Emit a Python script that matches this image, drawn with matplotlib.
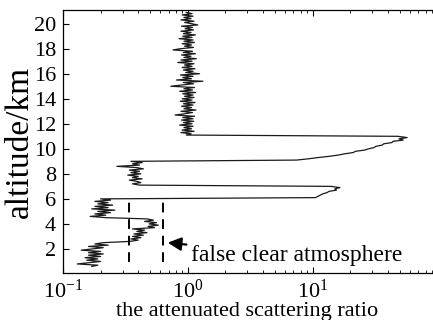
import numpy as np
import matplotlib
matplotlib.use("Agg")
import matplotlib.pyplot as plt

# profile values, listed from the top (20.9 km) down in 0.1 km steps
upper_clear = [0.97, 1.08, 0.90, 1.10, 0.93, 1.06, 0.88, 1.12, 0.94, 1.07,
               1.20, 0.89, 1.09, 0.95, 1.11, 0.88, 1.06, 0.92, 1.15, 0.91,
               1.08, 0.85, 1.10, 0.93, 1.13, 0.90, 1.07, 0.94, 1.11, 0.87,
               0.76, 1.09, 0.92, 1.15, 0.89, 1.06, 0.93, 1.17, 0.88, 1.08,
               0.83, 1.12, 0.94, 1.08, 0.90, 1.14, 0.92, 1.10, 0.96, 1.24,
               0.87, 1.10, 0.91, 1.07, 0.81, 1.32, 0.92, 1.11, 0.89, 0.73,
               1.13, 0.93, 1.09, 0.86, 1.15, 0.91, 1.10, 0.94, 1.12, 0.90,
               1.08, 0.87, 1.14, 0.92, 1.10, 0.89, 1.07, 0.93, 1.16, 0.88,
               1.09, 0.94, 0.79, 1.13, 0.91, 1.10, 0.89, 1.11, 0.92, 1.08,
               0.86, 1.10, 0.93, 1.07, 0.90, 1.12, 0.88, 1.06, 0.97]
cloud_high = [48, 57, 49, 53, 44, 43, 37, 36, 32, 31,
              28, 26, 22, 21, 18, 16, 13.5, 11, 9.2, 7.4]
mid_gap = [0.35, 0.43, 0.36, 0.41, 0.27, 0.39, 0.44, 0.34, 0.41, 0.35,
           0.42, 0.33, 0.40, 0.36, 0.43, 0.34, 0.39, 0.42, 0.36, 0.41]
cloud_low = [14, 16.5, 15, 15.5, 13.5, 13, 12, 11.5, 11, 10.5]
lower_a = [0.20, 0.24, 0.18, 0.23, 0.19, 0.25, 0.18, 0.23, 0.17, 0.26,
           0.19, 0.24, 0.18, 0.22, 0.165, 0.22]
false_clear = [0.47, 0.53, 0.45, 0.56, 0.49, 0.58, 0.48, 0.54]
lower_b = [0.36, 0.45, 0.39, 0.47, 0.37, 0.44, 0.36, 0.42, 0.35, 0.40, 0.34]
boundary = [0.21, 0.18, 0.23, 0.16, 0.21, 0.17, 0.14, 0.20, 0.16, 0.21,
            0.16, 0.20, 0.15, 0.19, 0.155, 0.20, 0.16, 0.13, 0.19, 0.17]

ratio = np.array(upper_clear + cloud_high + mid_gap + cloud_low
                 + lower_a + false_clear + lower_b + boundary)
altitude = np.round(20.9 - 0.1 * np.arange(len(ratio)), 1)

dash_x = [0.34, 0.63]
dash_alt = [0.98, 5.78]

plt.rcParams['font.family'] = ['Liberation Serif', 'DejaVu Serif']
plt.rcParams['mathtext.fontset'] = 'custom'
plt.rcParams['mathtext.rm'] = 'Liberation Serif'
plt.rcParams['mathtext.it'] = 'Liberation Serif:italic'
plt.rcParams['font.size'] = 16

fig = plt.figure(figsize=(4.33, 3.2), dpi=100)
ax = fig.add_axes([0.1455, 0.147, 0.852, 0.822])

ax.plot(ratio, altitude, color='#1a1a1a', lw=0.9)
for xv in dash_x:
    ax.plot([xv, xv], dash_alt, color='black', lw=1.4, dashes=(5, 3.5))

ax.annotate('false clear atmosphere', xy=(0.69, 2.5), xytext=(1.05, 1.45),
            ha='left', va='center', fontsize=17,
            arrowprops=dict(arrowstyle='-|>,head_length=0.8,head_width=0.4',
                            mutation_scale=10, color='black', lw=1.6,
                            shrinkA=1, shrinkB=0))

ax.set_xscale('log')
ax.set_xlim(0.1, 90)
ax.set_ylim(0.08, 21.1)
ax.set_yticks(np.arange(2, 21, 2))
ax.set_xlabel('the attenuated scattering ratio', labelpad=-1)
ax.set_ylabel('altitude/km', fontsize=24, labelpad=-1)

ax.tick_params(axis='both', which='both', direction='in', top=True, right=False)
ax.tick_params(which='major', length=4, pad=5)
ax.tick_params(which='minor', length=2.5)
ax.spines['right'].set_visible(False)
for s in ['left', 'bottom', 'top']:
    ax.spines[s].set_linewidth(0.9)

fig.savefig('out.png', dpi=100)
